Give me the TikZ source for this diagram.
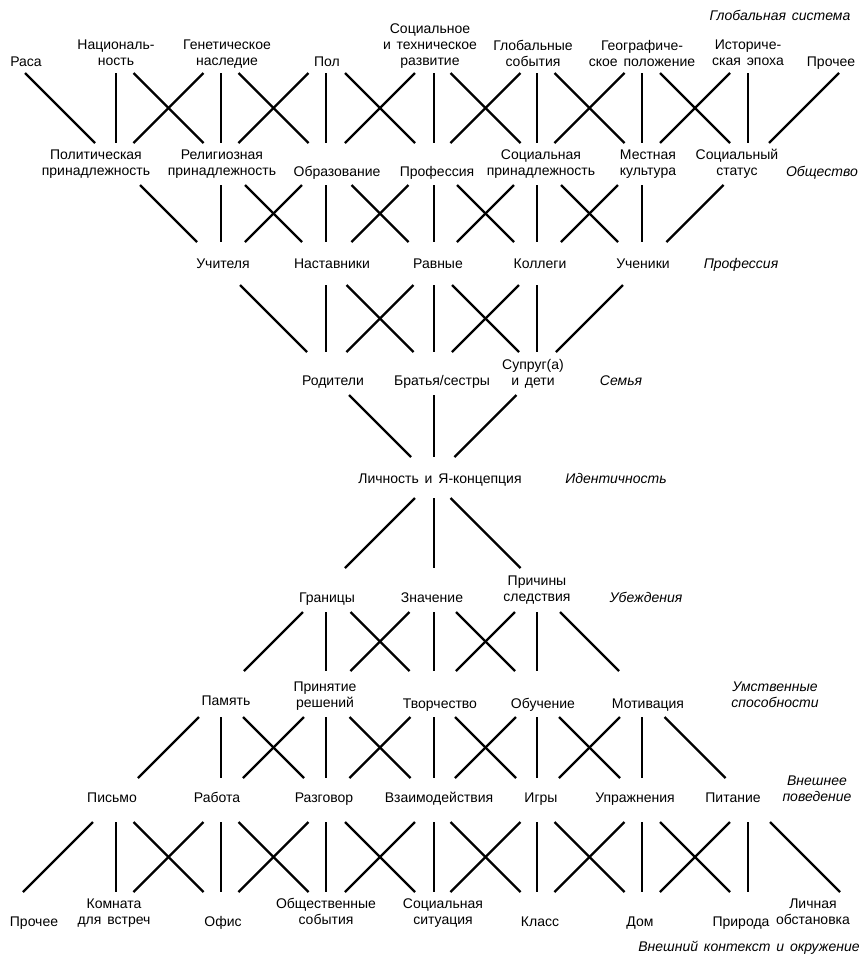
\documentclass[tikz,border=0pt]{standalone}
\usepackage{fontspec}
\setmainfont{Liberation Sans}[WordSpace=1.5]
\usetikzlibrary{calc}
\tikzset{
  lbl/.style={font=\fontsize{14}{16}\selectfont, align=center, inner sep=0pt,
    execute at begin node=\strut, execute at end node=\strut},
  cat/.style={lbl, font=\fontsize{14}{16}\selectfont\itshape},
  ln/.style={line width=2.4pt, line cap=butt}
}
% node with a column coordinate: name, column x, text x, y, text
\newcommand\nd[6][lbl]{%
  \coordinate (#2-c) at (#3,#5);
  \node[#1] (#2) at (#4,#5) {#6};}
% connector between two named nodes inside a band yt..yb
\newcommand\lk[4]{%
  \draw[ln] let \p1=(#1-c), \p2=(#2-c),
     \n1={0.5*(\x1+\x2)},
     \n2={ifthenelse(\x2-\x1>1,1,ifthenelse(\x2-\x1<-1,-1,0))*(#4-#3)/2} in
     ({\n1-\n2},#3) -- ({\n1+\n2},#4);}
\begin{document}
\begin{tikzpicture}[x=1pt,y=-1pt]
\useasboundingbox (0,0) rectangle (860,954);
% row 1
\nd{r10}{4}{26}{63}{Раса}
\nd{r11}{116}{116}{55.5}{Националь-\\ность}
\nd{r12}{221}{227}{55.5}{Генетическое\\наследие}
\nd{r13}{326}{327}{63}{Пол}
\nd{r14}{434}{430}{47}{Социальное\\и техническое\\развитие}
\nd{r15}{537}{533}{55.5}{Глобальные\\события}
\nd{r16}{642}{642}{55.5}{Географиче-\\ское положение}
\nd{r17}{748}{748}{55.5}{Историче-\\ская эпоха}
\nd{r18}{860}{831}{63}{Прочее}
\node[cat] (k1) at (780,17) {Глобальная система};
% row 2
\nd{r21}{116}{96}{165}{Политическая\\принадлежность}
\nd{r22}{221}{222}{165}{Религиозная\\принадлежность}
\nd{r23}{326}{337}{173}{Образование}
\nd{r24}{434}{437}{173}{Профессия}
\nd{r25}{537}{541}{165}{Социальная\\принадлежность}
\nd{r26}{642}{648}{165}{Местная\\культура}
\nd{r27}{748}{737}{165}{Социальный\\статус}
\node[cat,anchor=east] (k2) at (858,173) {Общество};
% row 3
\nd{r32}{221}{223}{265}{Учителя}
\nd{r33}{326}{332}{265}{Наставники}
\nd{r34}{434}{438}{265}{Равные}
\nd{r35}{537}{540}{265}{Коллеги}
\nd{r36}{642}{643}{265}{Ученики}
\node[cat] (k3) at (741,265) {Профессия};
% row 4
\nd{r43}{326}{333}{382}{Родители}
\nd{r44}{434}{442}{382}{Братья/сестры}
\nd{r45}{537}{533}{374.5}{Супруг(а)\\и дети}
\node[cat] (k4) at (621,382) {Семья};
% row 5
\nd{r54}{434}{440}{480}{Личность и Я-концепция}
\node[cat] (k5) at (616,480) {Идентичность};
% row 6
\nd{r63}{326}{327}{599}{Границы}
\nd{r64}{434}{432}{599}{Значение}
\nd{r65}{537}{537}{591.5}{Причины\\следствия}
\node[cat] (k6) at (646,599) {Убеждения};
% row 7
\nd{r72}{221}{226}{702}{Память}
\nd{r73}{326}{325}{697.5}{Принятие\\решений}
\nd{r74}{434}{440}{705}{Творчество}
\nd{r75}{537}{543}{705}{Обучение}
\nd{r76}{642}{648}{705}{Мотивация}
\node[cat] (k7) at (775,697.5) {Умственные\\способности};
% row 8
\nd{r81}{116}{112}{799}{Письмо}
\nd{r82}{221}{217}{799}{Работа}
\nd{r83}{326}{324}{799}{Разговор}
\nd{r84}{434}{439}{799}{Взаимодействия}
\nd{r85}{537}{541}{799}{Игры}
\nd{r86}{642}{635}{799}{Упражнения}
\nd{r87}{748}{733}{799}{Питание}
\node[cat] (k8) at (817,791.5) {Внешнее\\поведение};
% row 9
\nd{r90}{0}{34}{923}{Прочее}
\nd{r91}{116}{114}{914}{Комната\\для встреч}
\nd{r92}{221}{223}{923}{Офис}
\nd{r93}{326}{326}{914}{Общественные\\события}
\nd{r94}{434}{443}{914}{Социальная\\ситуация}
\nd{r95}{537}{540}{923}{Класс}
\nd{r96}{642}{640}{923}{Дом}
\nd{r97}{748}{741}{923}{Природа}
\nd{r98}{862}{813}{914}{Личная\\обстановка}
\node[cat] (k9) at (749,948) {Внешний контекст и окружение};
% connectors
\foreach \i [evaluate=\i as \a using int(\i-1), evaluate=\i as \b using int(\i+1)] in {1,...,7}
  {\lk{r1\a}{r2\i}{73}{143}\lk{r1\i}{r2\i}{73}{143}\lk{r1\b}{r2\i}{73}{143}}
\foreach \i [evaluate=\i as \a using int(\i-1), evaluate=\i as \b using int(\i+1)] in {2,...,6}
  {\lk{r2\a}{r3\i}{185}{242}\lk{r2\i}{r3\i}{185}{242}\lk{r2\b}{r3\i}{185}{242}}
\foreach \i [evaluate=\i as \a using int(\i-1), evaluate=\i as \b using int(\i+1)] in {3,...,5}
  {\lk{r3\a}{r4\i}{285}{352}\lk{r3\i}{r4\i}{285}{352}\lk{r3\b}{r4\i}{285}{352}}
\lk{r43}{r54}{395}{457}\lk{r44}{r54}{395}{457}\lk{r45}{r54}{395}{457}
\lk{r54}{r63}{498}{568}\lk{r54}{r64}{498}{568}\lk{r54}{r65}{498}{568}
\foreach \i [evaluate=\i as \a using int(\i-1), evaluate=\i as \b using int(\i+1)] in {3,...,5}
  {\lk{r6\i}{r7\a}{612}{671}\lk{r6\i}{r7\i}{612}{671}\lk{r6\i}{r7\b}{612}{671}}
\foreach \i [evaluate=\i as \a using int(\i-1), evaluate=\i as \b using int(\i+1)] in {2,...,6}
  {\lk{r7\i}{r8\a}{717}{778}\lk{r7\i}{r8\i}{717}{778}\lk{r7\i}{r8\b}{717}{778}}
\foreach \i [evaluate=\i as \a using int(\i-1), evaluate=\i as \b using int(\i+1)] in {1,...,7}
  {\lk{r8\i}{r9\a}{822}{892}\lk{r8\i}{r9\i}{822}{892}\lk{r8\i}{r9\b}{822}{892}}
\end{tikzpicture}
\end{document}
